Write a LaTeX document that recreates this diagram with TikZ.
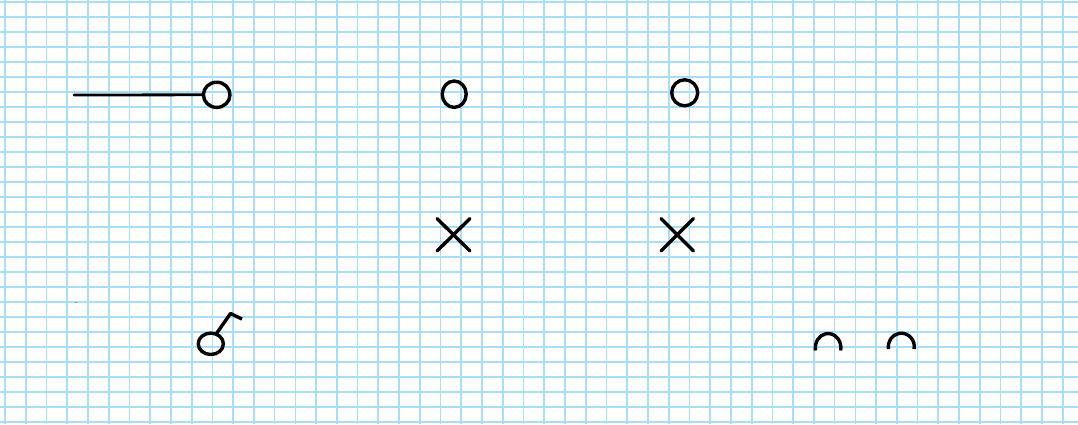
\documentclass[tikz,border=0pt]{standalone}
\definecolor{gridblue}{RGB}{168,222,246}
\tikzset{
  gridline/.style={draw=gridblue, line width=1.7pt},
  ink/.style={draw=black, line width=3.4pt, line cap=round, line join=round},
}
\begin{document}
\begin{tikzpicture}[x=1pt,y=-1pt]
\useasboundingbox (0,0) rectangle (1078,424);
\fill[white] (0,0) rectangle (1078,424);
% grid
\foreach \k in {0,...,51} {
  \draw[gridline] ({5+20.74*\k},0) -- ({5+20.74*\k},424);
}
\foreach \k in {0,...,28} {
  \draw[gridline] (0,{1.7+15*\k}) -- (1078,{1.7+15*\k});
}
% top-left: line with circle
\coordinate (l0) at (74,95);
\draw[ink] (216.7,94.8) ellipse [x radius=13.3, y radius=12.6];
\coordinate (c1w) at (203.4,94.8);
\draw[ink, line width=2.8pt] (l0) -- (c1w);
% circles
\draw[ink] (454.2,94.2) ellipse [x radius=12, y radius=13.2];
\draw[ink] (684.7,92.8) ellipse [x radius=13, y radius=13];
% crosses
\coordinate (xa1) at (437,218.5);
\coordinate (xa2) at (470,251);
\coordinate (xa3) at (470,218.5);
\coordinate (xa4) at (437,251);
\draw[ink] (xa1) -- (xa2);
\draw[ink] (xa3) -- (xa4);
\coordinate (xb1) at (661,218.5);
\coordinate (xb2) at (693.5,251);
\coordinate (xb3) at (693.5,218.5);
\coordinate (xb4) at (661,251);
\draw[ink] (xb1) -- (xb2);
\draw[ink] (xb3) -- (xb4);
% bottom-left symbol
\draw[ink] (210.8,343.8) ellipse [x radius=12.6, y radius=10.7];
\coordinate (s0) at (216.5,333.5);
\coordinate (s1) at (230.5,313.5);
\coordinate (s2) at (242,319);
\draw[ink, line cap=butt] (s0) -- (s1) -- (s2);
% arcs (open downward)
\draw[ink, line cap=butt] (815.5,350.5) arc[start angle=170, end angle=370, x radius=12.8, y radius=14.5];
\draw[ink, line cap=butt] (888.5,349) arc[start angle=170, end angle=370, x radius=13, y radius=13.5];
% speck
\fill[black!60] (76,302.5) circle (0.6);
\end{tikzpicture}
\end{document}
